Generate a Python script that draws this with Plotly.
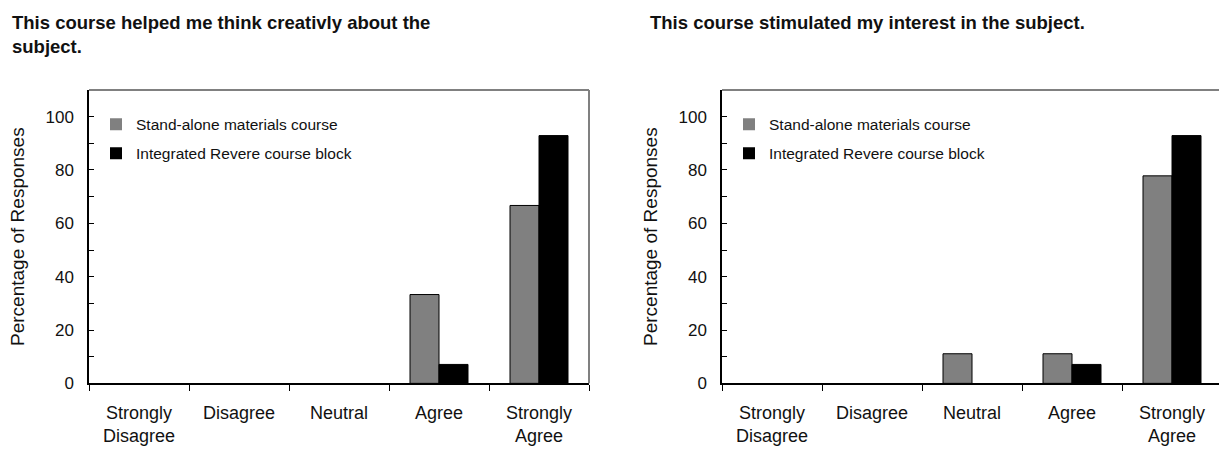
import plotly.graph_objects as go

# ---- data ----
categories = ["Strongly Disagree", "Disagree", "Neutral", "Agree", "Strongly Agree"]
tick_labels = ["Strongly<br>Disagree", "Disagree", "Neutral", "Agree", "Strongly<br>Agree"]
series_names = ["Stand-alone materials course", "Integrated Revere course block"]

left_standalone = [0, 0, 0, 33.3, 66.7]
left_integrated = [0, 0, 0, 7.1, 92.9]
right_standalone = [0, 0, 11.1, 11.1, 77.8]
right_integrated = [0, 0, 0, 7.1, 92.9]

left_title = "This course helped me think creativly about the<br>subject."
right_title = "This course stimulated my interest in the subject."
y_title = "Percentage of Responses"
y_ticks = [0, 20, 40, 60, 80, 100]

# ---- styling ----
W, H = 1219, 454
FONT = "Liberation Sans, Arial, sans-serif"
GRAY = "#808080"
colors = [GRAY, "#000000"]

fig = go.Figure()

def add_pair(vals_a, vals_b, xa, ya, legend):
    for name, vals, col in zip(series_names, [vals_a, vals_b], colors):
        fig.add_trace(go.Bar(
            x=categories, y=vals, name=name, xaxis=xa, yaxis=ya,
            marker=dict(color=col, line=dict(color="black",
                                             width=[1 if v else 0 for v in vals])),
            legend=legend, legendgroup=legend + name, showlegend=True,
        ))

add_pair(left_standalone, left_integrated, "x", "y", "legend")
add_pair(right_standalone, right_integrated, "x2", "y2", "legend2")

L1, R1 = 89, 589
L2 = 722
TOP, BOT = 92, 392

def px_x(v):
    return v / W

def px_y(v):
    return 1 - v / H

xcommon = dict(
    type="category", categoryorder="array", categoryarray=categories,
    tickmode="array", tickvals=categories, ticktext=tick_labels,
    showline=True, linecolor="black", linewidth=1.5, layer="above traces",
    ticks="outside", ticklen=6, tickcolor="black", tickwidth=1,
    tickson="boundaries", showgrid=False, zeroline=False,
    tickfont=dict(family=FONT, size=18, color="#111111"),
    ticklabelstandoff=12,
    fixedrange=True,
)
ycommon = dict(
    range=[0, 110], tickmode="array", tickvals=y_ticks,
    showline=True, linecolor="black", linewidth=1.5, layer="above traces",
    ticks="inside", ticklen=5, tickcolor="black", tickwidth=1,
    minor=dict(dtick=10, tick0=0, ticks="inside", ticklen=5, tickcolor="black", tickwidth=1),
    showgrid=False, zeroline=False,
    tickfont=dict(family=FONT, size=17, color="#111111"),
    ticklabelstandoff=10,
    title=dict(text=y_title, font=dict(family=FONT, size=19, color="#111111"), standoff=16),
    fixedrange=True,
)

fig.update_layout(
    width=W, height=H,
    margin=dict(l=0, r=0, t=0, b=0),
    paper_bgcolor="white", plot_bgcolor="white",
    bargap=0.42, bargroupgap=0, barmode="group",
    xaxis=dict(domain=[px_x(L1), px_x(R1)], anchor="y", range=[-0.5, 4.5], **xcommon),
    yaxis=dict(domain=[px_y(BOT), px_y(TOP)], anchor="x", **ycommon),
    xaxis2=dict(domain=[px_x(L2), 1.0], anchor="y2", range=[-0.5, -0.5 + (W - L2) / 100.0], **xcommon),
    yaxis2=dict(domain=[px_y(BOT), px_y(TOP)], anchor="x2", **ycommon),
    legend=dict(x=px_x(96), y=px_y(110), xanchor="left", yanchor="top",
                bgcolor="rgba(0,0,0,0)", traceorder="grouped", tracegroupgap=6,
                font=dict(family=FONT, size=15.5, color="#111111"), itemclick=False),
    legend2=dict(x=px_x(729), y=px_y(110), xanchor="left", yanchor="top",
                 bgcolor="rgba(0,0,0,0)", traceorder="grouped", tracegroupgap=6,
                 font=dict(family=FONT, size=15.5, color="#111111"), itemclick=False),
    showlegend=True,
)

# gray top/right frame lines
fig.add_shape(type="line", xref="x domain", yref="y domain", x0=0, x1=1, y0=1, y1=1,
              line=dict(color=GRAY, width=2))
fig.add_shape(type="line", xref="x domain", yref="y domain", x0=1, x1=1, y0=0, y1=1,
              line=dict(color=GRAY, width=2))
fig.add_shape(type="line", xref="x2 domain", yref="y2 domain", x0=0, x1=1, y0=1, y1=1,
              line=dict(color=GRAY, width=2))

# titles
fig.add_annotation(text="<b>" + left_title + "</b>", xref="paper", yref="paper",
                   x=px_x(10), y=px_y(10), xanchor="left", yanchor="top", align="left",
                   showarrow=False, font=dict(family=FONT, size=18.5, color="#111111"))
fig.add_annotation(text="<b>" + right_title + "</b>", xref="paper", yref="paper",
                   x=px_x(648), y=px_y(10), xanchor="left", yanchor="top", align="left",
                   showarrow=False, font=dict(family=FONT, size=18.5, color="#111111"))

fig.write_html("out.html",
               config={"displayModeBar": False},
               post_script="document.body.style.margin='0';document.body.style.overflow='hidden';")
